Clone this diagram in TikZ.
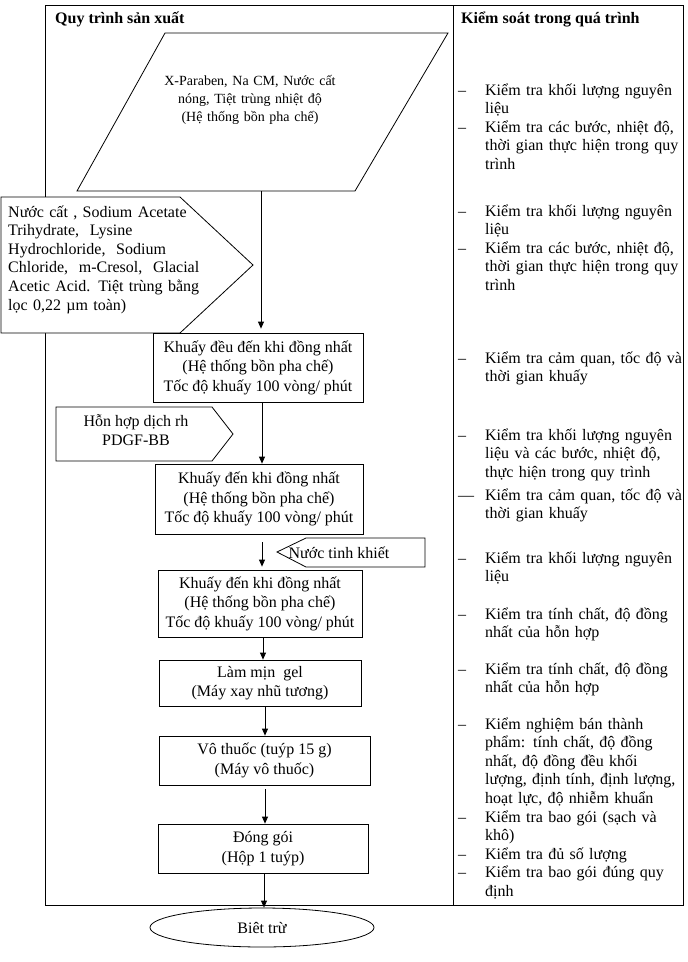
\documentclass[tikz,border=0pt]{standalone}
\usepackage{fontspec}
\setmainfont{Liberation Serif}
\usetikzlibrary{arrows.meta,shapes.geometric}
\newcommand\myL[1]{\makebox[189pt][l]{#1}}
\newcommand\myJ[1]{\makebox[189pt][s]{#1}}
\newcommand\bfirst[2][–]{\noindent\makebox[27pt][l]{#1}#2\par}
\newcommand\bnext[1]{\noindent\hspace*{27pt}#1\par}
\tikzset{
  ln/.style={line width=0.8pt},
  arr/.style={ln,-{Triangle[length=7pt,width=6pt]}},
  txt/.style={inner sep=0pt,font=\fontsize{16}{18.6}\selectfont},
  rcol/.style={txt,anchor=base west,text width=240pt},
  box/.style={draw,ln,inner sep=0pt,align=center,font=\fontsize{16}{19.5}\selectfont},
  shp/.style={ln,fill=white},
}
\begin{document}
\begin{tikzpicture}[x=1pt,y=-1pt]
\useasboundingbox (0,0) rectangle (688,962);
\fill[white] (0,0) rectangle (688,962);
% table frame
\draw[ln] (45,5) rectangle (683,905);
\draw[ln] (453,5) -- (453,905);
\node[txt,anchor=base west,font=\fontsize{16}{18.6}\selectfont\bfseries] (h1) at (55,23) {Quy trình sản xuất};
\node[txt,anchor=base west,font=\fontsize{16}{18.6}\selectfont\bfseries] (h2) at (461,23) {Kiểm soát trong quá trình};
% parallelogram input
\draw[shp] (165,33) -- (448,33) -- (355,191) -- (77,191) -- cycle;
\node[txt,anchor=base,align=center,text width=220pt,font=\fontsize{14}{18}\selectfont] (pin) at (250,85) {X-Paraben, Na CM, Nước cất\\nóng, Tiệt trùng nhiệt độ\\(Hệ thống bồn pha chế)};
\coordinate (pb) at (261,191);
% left pentagon input
\draw[shp] (1,197) -- (180,197) -- (253,265) -- (180,333) -- (1,333) -- cycle;
\node[txt,anchor=base west,align=left,text width=240pt] (lin) at (8,217) {Nước cất , Sodium Acetate\\Trihydrate,\ \ Lysine\\Hydrochloride,\ \ Sodium\\Chloride,\ \ m-Cresol,\ \ Glacial\\Acetic Acid. Tiệt trùng bằng\\lọc 0,22 µm toàn)};
% second input
\draw[shp] (56,407) -- (212,407) -- (233,434) -- (212,461) -- (56,461) -- cycle;
\node[txt,align=center] (hh) at (136,430) {Hỗn hợp dịch rh\\PDGF-BB};
% third input
\draw[shp] (277,552) -- (306,538) -- (425,538) -- (425,567) -- (306,567) -- cycle;
\node[txt] (nt) at (339,553) {Nước tinh khiết};
% process boxes
\node[box,minimum width=210pt,minimum height=69pt] (b1) at (258,367.5) {Khuấy đều đến khi đồng nhất\\(Hệ thống bồn pha chế)\\Tốc độ khuấy 100 vòng/ phút};
\node[box,minimum width=208pt,minimum height=70pt] (b2) at (259,499) {Khuấy đến khi đồng nhất\\(Hệ thống bồn pha chế)\\Tốc độ khuấy 100 vòng/ phút};
\node[box,minimum width=204pt,minimum height=67pt] (b3) at (260,603.5) {Khuấy đến khi đồng nhất\\(Hệ thống bồn pha chế)\\Tốc độ khuấy 100 vòng/ phút};
\node[box,minimum width=202pt,minimum height=46pt] (b4) at (260,683) {Làm mịn\ \ gel\\(Máy xay nhũ tương)};
\node[box,minimum width=211pt,minimum height=49pt] (b5) at (264.5,760.5) {Vô thuốc (tuýp 15 g)\\(Máy vô thuốc)};
\node[box,minimum width=210pt,minimum height=49pt] (b6) at (263,848.5) {Đóng gói\\(Hộp 1 tuýp)};
\node[draw,ln,ellipse,inner sep=0pt,minimum width=224pt,minimum height=39pt,font=\fontsize{16}{18.6}\selectfont] (fin) at (262,927.5) {Biêt trừ};
% arrows
\coordinate (x1) at (262,0);
\coordinate (x2) at (263,0);
\coordinate (x3) at (265,0);
\coordinate (x4) at (264,0);
\draw[arr,shorten >=4pt] (pb) -- (b1.north -| pb);
\draw[arr] (b1.south -| x1) -- (b2.north -| x1);
\draw[arr,shorten <=8pt,shorten >=3pt] (b2.south -| x1) -- (b3.north -| x1);
\draw[arr] (b3.south -| x2) -- (b4.north -| x2);
\draw[arr] (b4.south -| x3) -- (b5.north -| x3);
\draw[arr,shorten <=4pt] (b5.south -| x3) -- (b6.north -| x3);
\draw[arr] (b6.south -| x4) -- (fin.north -| x4);
% control column
\node[rcol] (c1) at (458,95) {\bfirst{Kiểm tra khối lượng nguyên}\bnext{liệu}\bfirst{Kiểm tra các bước, nhiệt độ,}\bnext{thời gian thực hiện trong quy}\bnext{trình}};
\node[rcol] (c2) at (458,216) {\bfirst{Kiểm tra khối lượng nguyên}\bnext{liệu}\bfirst{Kiểm tra các bước, nhiệt độ,}\bnext{thời gian thực hiện trong quy}\bnext{trình}};
\node[rcol] (c3) at (458,363) {\bfirst{Kiểm tra cảm quan, tốc độ và}\bnext{thời gian khuấy}};
\node[rcol] (c4) at (458,440) {\bfirst{Kiểm tra khối lượng nguyên}\bnext{liệu và các bước, nhiệt độ,}\bnext{thực hiện trong quy trình}};
\node[rcol] (c5) at (458,500) {\bfirst[—]{Kiểm tra cảm quan, tốc độ và}\bnext{thời gian khuấy}};
\node[rcol] (c6) at (458,563) {\bfirst{Kiểm tra khối lượng nguyên}\bnext{liệu}};
\node[rcol] (c7) at (458,619) {\bfirst{Kiểm tra tính chất, độ đồng}\bnext{nhất của hỗn hợp}};
\node[rcol] (c8) at (458,674) {\bfirst{Kiểm tra tính chất, độ đồng}\bnext{nhất của hỗn hợp}};
\node[rcol] (c9) at (458,729) {\bfirst{\myJ{Kiểm nghiệm bán thành}}\bnext{\myJ{phẩm: tính chất, độ đồng}}\bnext{\myJ{nhất, độ đồng đều khối}}\bnext{\myJ{lượng, định tính, định lượng,}}\bnext{hoạt lực, độ nhiễm khuẩn}\bfirst{\myJ{Kiểm tra bao gói (sạch và}}\bnext{khô)}\bfirst{Kiểm tra đủ số lượng}\bfirst{\myJ{Kiểm tra bao gói đúng quy}}\bnext{định}};
\end{tikzpicture}
\end{document}
